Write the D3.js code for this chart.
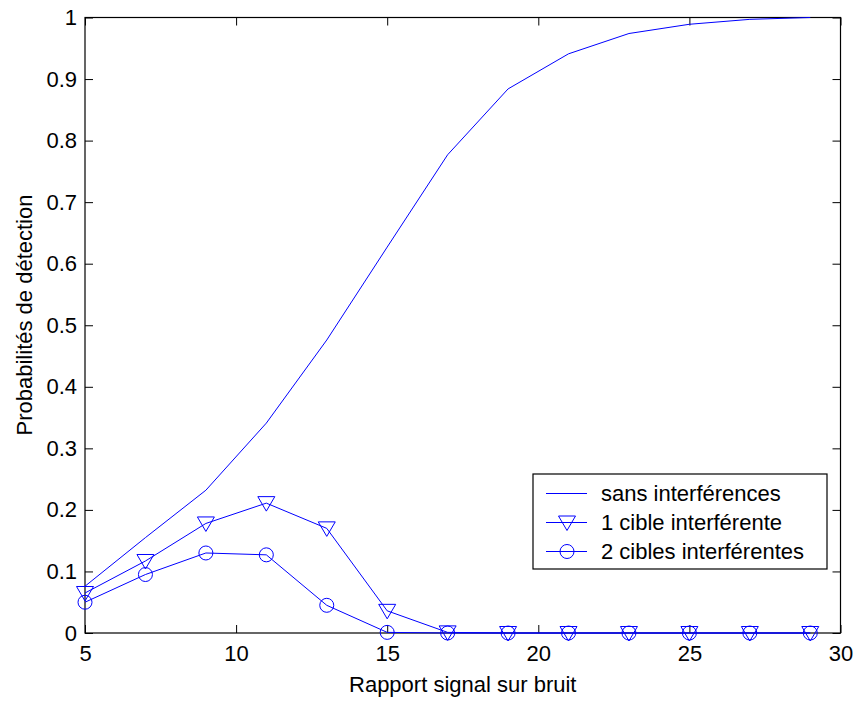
<!DOCTYPE html>
<html>
<head>
<meta charset="utf-8">
<script src="https://cdn.jsdelivr.net/npm/d3@7"></script>
<style>
  body { margin: 0; background: #fff; }
  text { font-family: Arial, "Liberation Sans", sans-serif; fill: #000; }
</style>
</head>
<body>
<svg></svg>
<script>
// signal-to-noise ratio values
var snr = [5, 7, 9, 11, 13, 15, 17, 19, 21, 23, 25, 27, 29];

// detection probability for each case
var sansInterf = [0.076, 0.155, 0.232, 0.341, 0.476, 0.627, 0.777, 0.884, 0.941, 0.974, 0.989, 0.997, 1.0];
var uneCible = [0.065, 0.117, 0.178, 0.211, 0.170, 0.036, 0.001, 0, 0, 0, 0, 0, 0];
var deuxCibles = [0.050, 0.095, 0.130, 0.127, 0.045, 0.001, 0, 0, 0, 0, 0, 0, 0];

var xTicks = [5, 10, 15, 20, 25, 30];
var yTicks = [0, 0.1, 0.2, 0.3, 0.4, 0.5, 0.6, 0.7, 0.8, 0.9, 1];
var legendLabels = ["sans interférences", "1 cible interférente", "2 cibles interférentes"];

var width = 856;
var height = 702;
var fontSize = 22;

var svg = d3.select("svg")
        .attr("width", width)
        .attr("height", height);

var padding = {left: 85, right: 15.5, top: 17.5, bottom: 69};

var xScale = d3.scaleLinear()
               .domain([5, 30])
               .range([padding.left, width - padding.right]);

var yScale = d3.scaleLinear()
               .domain([0, 1])
               .range([height - padding.bottom, padding.top]);

var blue = "#0000ff";
var tick = 8;

// axes with inward ticks
var xAxis = d3.axisBottom(xScale).tickValues(xTicks).tickSize(-tick).tickPadding(12).tickFormat(d3.format("d"));
var yAxis = d3.axisLeft(yScale).tickValues(yTicks).tickSize(-tick).tickPadding(8)
              .tickFormat(function(d){ return d === 0 || d === 1 ? d : d3.format(".1f")(d); });

svg.append("g")
   .attr("transform", "translate(0," + yScale(0) + ")")
   .call(xAxis);
svg.append("g")
   .attr("transform", "translate(" + xScale(5) + ",0)")
   .call(yAxis);

// mirrored ticks on top and right
svg.append("g")
   .attr("transform", "translate(0," + yScale(1) + ")")
   .call(d3.axisTop(xScale).tickValues(xTicks).tickSize(-tick).tickFormat(""));
svg.append("g")
   .attr("transform", "translate(" + xScale(30) + ",0)")
   .call(d3.axisRight(yScale).tickValues(yTicks).tickSize(-tick).tickFormat(""));

svg.selectAll(".domain").remove();
svg.selectAll(".tick line").attr("stroke", "#000");
svg.selectAll(".tick text").attr("font-size", fontSize).attr("font-family", "Arial, 'Liberation Sans', sans-serif");

svg.append("rect")
   .attr("x", xScale(5))
   .attr("y", yScale(1))
   .attr("width", xScale(30) - xScale(5))
   .attr("height", yScale(0) - yScale(1))
   .attr("fill", "none")
   .attr("stroke", "#000")
   .attr("stroke-width", 1.2);

var line = d3.line()
             .x(function(d){ return xScale(d[0]); })
             .y(function(d){ return yScale(d[1]); });

var series = [sansInterf, uneCible, deuxCibles].map(function(vals){
  return snr.map(function(s, i){ return [s, vals[i]]; });
});

series.forEach(function(pts){
  svg.append("path")
     .datum(pts)
     .attr("d", line)
     .attr("fill", "none")
     .attr("stroke", blue)
     .attr("stroke-width", 1);
});

// downward triangle marker
var tri = function(cx, cy){
  var w = 8.5, up = 6.5, down = 8;
  return "M" + (cx - w) + "," + (cy - up) + "L" + (cx + w) + "," + (cy - up) + "L" + cx + "," + (cy + down) + "Z";
};

svg.selectAll(".tri")
   .data(series[1])
   .enter()
   .append("path")
   .attr("class", "tri")
   .attr("d", function(d){ return tri(xScale(d[0]), yScale(d[1])); })
   .attr("fill", "none")
   .attr("stroke", blue);

svg.selectAll(".circ")
   .data(series[2])
   .enter()
   .append("circle")
   .attr("class", "circ")
   .attr("cx", function(d){ return xScale(d[0]); })
   .attr("cy", function(d){ return yScale(d[1]); })
   .attr("r", 7)
   .attr("fill", "none")
   .attr("stroke", blue);

// legend
var legend = svg.append("g").attr("transform", "translate(533,474)");
legend.append("rect")
      .attr("width", 294)
      .attr("height", 95)
      .attr("fill", "#fff")
      .attr("stroke", "#000")
      .attr("stroke-width", 1.2);

legendLabels.forEach(function(lab, i){
  var y = 19.5 + i * 29;
  legend.append("line")
        .attr("x1", 13).attr("x2", 54)
        .attr("y1", y).attr("y2", y)
        .attr("stroke", blue);
  if (i === 1) legend.append("path").attr("d", tri(34, y)).attr("fill", "none").attr("stroke", blue);
  if (i === 2) legend.append("circle").attr("cx", 34).attr("cy", y).attr("r", 7).attr("fill", "none").attr("stroke", blue);
  legend.append("text")
        .attr("x", 68)
        .attr("y", y + 7)
        .attr("font-size", fontSize)
        .text(lab);
});

// axis titles
svg.append("text")
   .attr("x", (xScale(5) + xScale(30)) / 2)
   .attr("y", 692)
   .attr("text-anchor", "middle")
   .attr("font-size", fontSize)
   .text("Rapport signal sur bruit");

svg.append("text")
   .attr("transform", "translate(32,315) rotate(-90)")
   .attr("text-anchor", "middle")
   .attr("font-size", fontSize)
   .text("Probabilités de détection");
</script>
</body>
</html>
